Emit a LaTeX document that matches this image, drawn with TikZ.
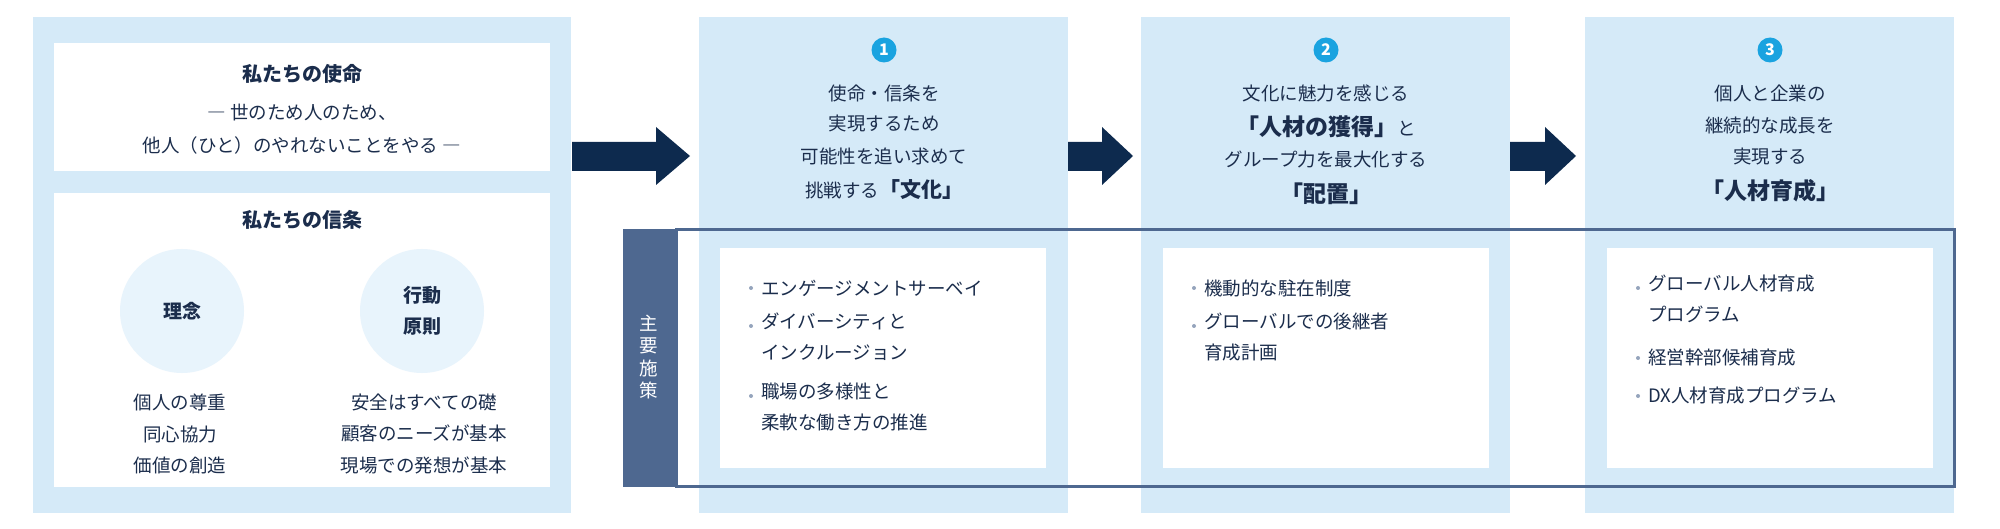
\documentclass[tikz,border=0pt]{standalone}
\usepackage{fontspec}
\setmainfont{Noto Sans CJK JP}
\usetikzlibrary{positioning}
\definecolor{lb}{HTML}{D5EAF8}
\definecolor{cf}{HTML}{E8F4FC}
\definecolor{navy}{HTML}{0D2A4E}
\definecolor{tx}{HTML}{1B2D4C}
\definecolor{fr}{HTML}{4E6890}
\definecolor{nb}{HTML}{1AA3E0}
\begin{document}
\begin{tikzpicture}[x=1pt,y=-1pt,
  panel/.style={fill=lb,draw=none},
  wbox/.style={fill=white,draw=none},
  txt/.style={text=tx,font=\fontsize{18.5}{22}\selectfont,align=center,inner sep=0},
  ttl/.style={text=tx,font=\fontsize{20}{24}\selectfont\bfseries,align=center,inner sep=0},
  bl/.style={text=tx,font=\fontsize{18.5}{22}\selectfont,align=left,inner sep=0,anchor=west},
  num/.style={circle,fill=nb,text=white,minimum size=25pt,inner sep=0,font=\fontsize{16}{16}\selectfont\bfseries},
  arr/.style={fill=navy,draw=none}]
\useasboundingbox (0,0) rectangle (2000,529);
% left block
\fill[panel] (33,17) rectangle (571,513);
\fill[wbox] (54,43) rectangle (550,171);
\fill[wbox] (54,193) rectangle (550,487);
\node[ttl] (mt) at (302,74) {私たちの使命};
\node[txt] (m1) at (302,113) {― 世のため人のため、};
\node[txt] (m2) at (302,145) {他人（ひと）のやれないことをやる ―};
\node[ttl] (ct) at (302,220) {私たちの信条};
\node[circle,fill=cf,minimum size=124pt,inner sep=0] (c1) at (182,311) {};
\node[circle,fill=cf,minimum size=124pt,inner sep=0] (c2) at (422,311) {};
\node[ttl,font=\fontsize{19}{23}\selectfont\bfseries] (c1t) at (c1) {理念};
\node[ttl,font=\fontsize{19}{31}\selectfont\bfseries] (c2t) at (c2) {行動\\原則};
\node[txt,font=\fontsize{18.5}{31.5}\selectfont] (l1) at (180,434) {個人の尊重\\同心協力\\価値の創造};
\node[txt,font=\fontsize{18.5}{31.5}\selectfont] (l2) at (424,434) {安全はすべての礎\\顧客のニーズが基本\\現場での発想が基本};
% panels
\fill[panel] (699,17) rectangle (1068,513);
\fill[panel] (1141,17) rectangle (1510,513);
\fill[panel] (1585,17) rectangle (1954,513);
\fill[wbox] (720,248) rectangle (1046,468);
\fill[wbox] (1163,248) rectangle (1489,468);
\fill[wbox] (1607,248) rectangle (1933,468);
% frame
\draw[fr,line width=3pt] (676,230) rectangle (1954,486);
\fill[fr] (623,229) rectangle (676,487);
\node[text=white,font=\fontsize{18.5}{22.5}\selectfont,align=center,inner sep=0] (ms) at (649,357) {主\\要\\施\\策};
% arrows
\fill[arr] (572,142) -- (656,142) -- (656,127) -- (690,156) -- (656,185) -- (656,171) -- (572,171) -- cycle;
\fill[arr] (1068,142) -- (1102,142) -- (1102,127) -- (1133,156) -- (1102,185) -- (1102,171) -- (1068,171) -- cycle;
\fill[arr] (1510,142) -- (1545,142) -- (1545,127) -- (1576,156) -- (1545,185) -- (1545,171) -- (1510,171) -- cycle;
% panel 1
\node[num] (n1) at (884,50) {1};
\node[txt] (p1a) at (884,93) {使命・信条を};
\node[txt] (p1b) at (884,124) {実現するため};
\node[txt] (p1c) at (884,156) {可能性を追い求めて};
\node[txt] (p1d) at (884,190) {挑戦する{\fontsize{21}{25}\selectfont\bfseries「文化」}};
% panel 2
\node[num] (n2) at (1326,50) {2};
\node[txt] (p2a) at (1326,93) {文化に魅力を感じる};
\node[txt] (p2b) at (1326,127) {{\fontsize{23}{27}\selectfont\bfseries「人材の獲得」}と};
\node[txt] (p2c) at (1326,160) {グループ力を最大化する};
\node[ttl,font=\fontsize{23}{27}\selectfont\bfseries] (p2d) at (1326,194) {「配置」};
% panel 3
\node[num] (n3) at (1770,50) {3};
\node[txt] (p3a) at (1770,93) {個人と企業の};
\node[txt] (p3b) at (1770,125) {継続的な成長を};
\node[txt] (p3c) at (1770,157) {実現する};
\node[ttl,font=\fontsize{23}{27}\selectfont\bfseries] (p3d) at (1770,191) {「人材育成」};
% bullets
\tikzset{dot/.style={circle,fill=fr!60,minimum size=4pt,inner sep=0}}
\node[dot] (d11) at (751,288) {};
\node[bl] (b11) at (761,288) {エンゲージメントサーベイ};
\node[dot] (d12) at (751,326) {};
\node[bl,anchor=north west] (b12) at (761,313) {ダイバーシティと\\[9pt]インクルージョン};
\node[dot] (d13) at (751,396) {};
\node[bl,anchor=north west] (b13) at (761,383) {職場の多様性と\\[9pt]柔軟な働き方の推進};
\node[dot] (d21) at (1194,288) {};
\node[bl] (b21) at (1204,288) {機動的な駐在制度};
\node[dot] (d22) at (1194,326) {};
\node[bl,anchor=north west] (b22) at (1204,313) {グローバルでの後継者\\[9pt]育成計画};
\node[dot] (d31) at (1638,288) {};
\node[bl,anchor=north west] (b31) at (1648,275) {グローバル人材育成\\[9pt]プログラム};
\node[dot] (d32) at (1638,358) {};
\node[bl] (b32) at (1648,358) {経営幹部候補育成};
\node[dot] (d33) at (1638,396) {};
\node[bl] (b33) at (1648,396) {DX人材育成プログラム};
\end{tikzpicture}
\end{document}
